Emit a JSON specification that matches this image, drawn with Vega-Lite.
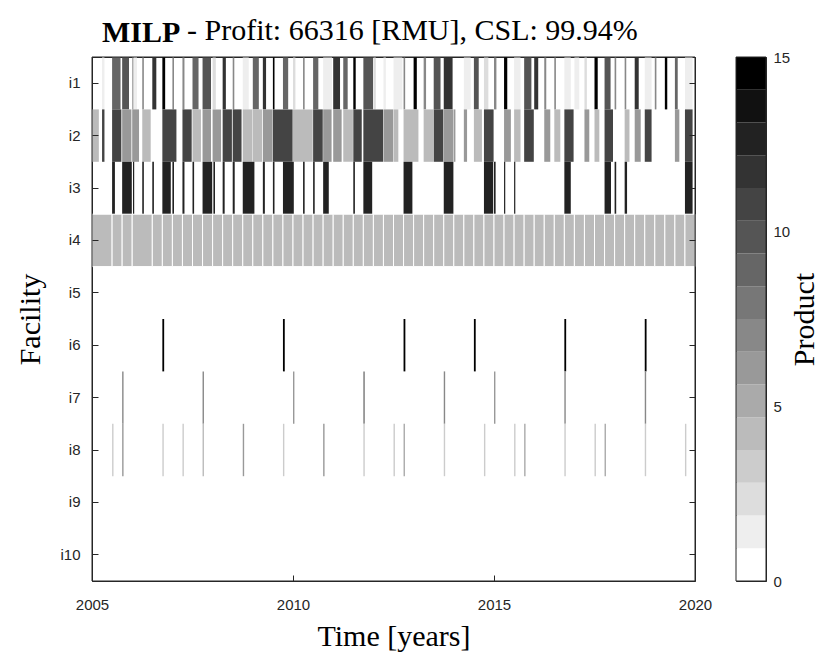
{
"$schema": "https://vega.github.io/schema/vega-lite/v6.json",
"background": "white",
"padding": {"left": 15, "top": 15, "right": 5, "bottom": 5},
"bounds": "flush",
"datasets": {
"bars": [
{"f":"i1","s":2005.25,"e":2005.31,"p":1},{"f":"i1","s":2005.5,"e":2005.71,"p":9},{"f":"i1","s":2005.75,"e":2005.92,"p":10},{"f":"i1","s":2006.0,"e":2006.035,"p":6},{"f":"i1","s":2006.035,"e":2006.12,"p":1},{"f":"i1","s":2006.25,"e":2006.29,"p":7},{"f":"i1","s":2006.5,"e":2006.6,"p":12},{"f":"i1","s":2006.75,"e":2006.82,"p":15},{"f":"i1","s":2007.0,"e":2007.04,"p":7},{"f":"i1","s":2007.25,"e":2007.3,"p":7},{"f":"i1","s":2007.5,"e":2007.65,"p":9},{"f":"i1","s":2007.75,"e":2007.96,"p":10},{"f":"i1","s":2008.0,"e":2008.08,"p":2},{"f":"i1","s":2008.25,"e":2008.33,"p":12},{"f":"i1","s":2008.5,"e":2008.54,"p":7},{"f":"i1","s":2008.75,"e":2008.9,"p":1},{"f":"i1","s":2009.0,"e":2009.15,"p":9},{"f":"i1","s":2009.25,"e":2009.33,"p":12},{"f":"i1","s":2009.5,"e":2009.54,"p":15},{"f":"i1","s":2009.75,"e":2009.88,"p":9},{"f":"i1","s":2010.0,"e":2010.06,"p":2},{"f":"i1","s":2010.25,"e":2010.29,"p":7},{"f":"i1","s":2010.5,"e":2010.63,"p":9},{"f":"i1","s":2010.75,"e":2010.97,"p":1},{"f":"i1","s":2011.0,"e":2011.17,"p":12},{"f":"i1","s":2011.25,"e":2011.36,"p":9},{"f":"i1","s":2011.5,"e":2011.56,"p":15},{"f":"i1","s":2011.75,"e":2011.99,"p":10},{"f":"i1","s":2012.0,"e":2012.06,"p":2},{"f":"i1","s":2012.25,"e":2012.31,"p":1},{"f":"i1","s":2012.5,"e":2012.72,"p":1},{"f":"i1","s":2012.75,"e":2012.79,"p":7},{"f":"i1","s":2013.0,"e":2013.08,"p":15},{"f":"i1","s":2013.25,"e":2013.31,"p":7},{"f":"i1","s":2013.5,"e":2013.67,"p":10},{"f":"i1","s":2013.75,"e":2013.97,"p":12},{"f":"i1","s":2014.25,"e":2014.42,"p":1},{"f":"i1","s":2014.5,"e":2014.62,"p":10},{"f":"i1","s":2014.75,"e":2014.86,"p":2},{"f":"i1","s":2015.0,"e":2015.06,"p":7},{"f":"i1","s":2015.25,"e":2015.33,"p":15},{"f":"i1","s":2015.5,"e":2015.66,"p":1},{"f":"i1","s":2015.75,"e":2015.93,"p":10},{"f":"i1","s":2016.0,"e":2016.1,"p":12},{"f":"i1","s":2016.25,"e":2016.3,"p":7},{"f":"i1","s":2016.5,"e":2016.54,"p":7},{"f":"i1","s":2016.75,"e":2016.91,"p":1},{"f":"i1","s":2017.0,"e":2017.12,"p":1},{"f":"i1","s":2017.25,"e":2017.31,"p":2},{"f":"i1","s":2017.5,"e":2017.58,"p":15},{"f":"i1","s":2017.75,"e":2017.9,"p":10},{"f":"i1","s":2018.0,"e":2018.04,"p":7},{"f":"i1","s":2018.25,"e":2018.29,"p":7},{"f":"i1","s":2018.5,"e":2018.6,"p":12},{"f":"i1","s":2018.75,"e":2018.92,"p":1},{"f":"i1","s":2019.0,"e":2019.04,"p":7},{"f":"i1","s":2019.25,"e":2019.31,"p":15},{"f":"i1","s":2019.5,"e":2019.57,"p":9},{"f":"i1","s":2019.75,"e":2019.94,"p":1},
{"f":"i2","s":2005.0,"e":2005.17,"p":4},{"f":"i2","s":2005.25,"e":2005.31,"p":11},{"f":"i2","s":2005.5,"e":2005.73,"p":11},{"f":"i2","s":2005.75,"e":2005.98,"p":6},{"f":"i2","s":2006.0,"e":2006.17,"p":6},{"f":"i2","s":2006.25,"e":2006.46,"p":4},{"f":"i2","s":2006.75,"e":2007.1,"p":11},{"f":"i2","s":2007.25,"e":2007.48,"p":11},{"f":"i2","s":2007.5,"e":2007.71,"p":4},{"f":"i2","s":2007.75,"e":2007.96,"p":6},{"f":"i2","s":2008.0,"e":2008.21,"p":6},{"f":"i2","s":2008.25,"e":2008.48,"p":11},{"f":"i2","s":2008.5,"e":2008.72,"p":11},{"f":"i2","s":2008.75,"e":2008.99,"p":4},{"f":"i2","s":2009.0,"e":2009.23,"p":4},{"f":"i2","s":2009.25,"e":2009.49,"p":6},{"f":"i2","s":2009.5,"e":2009.99,"p":11},{"f":"i2","s":2010.0,"e":2010.49,"p":4},{"f":"i2","s":2010.5,"e":2010.74,"p":11},{"f":"i2","s":2010.75,"e":2010.96,"p":6},{"f":"i2","s":2011.0,"e":2011.21,"p":6},{"f":"i2","s":2011.25,"e":2011.49,"p":4},{"f":"i2","s":2011.5,"e":2011.71,"p":11},{"f":"i2","s":2011.75,"e":2012.24,"p":11},{"f":"i2","s":2012.25,"e":2012.49,"p":6},{"f":"i2","s":2012.5,"e":2012.62,"p":4},{"f":"i2","s":2012.75,"e":2013.12,"p":4},{"f":"i2","s":2013.25,"e":2013.49,"p":4},{"f":"i2","s":2013.5,"e":2013.74,"p":11},{"f":"i2","s":2013.75,"e":2013.99,"p":6},{"f":"i2","s":2014.0,"e":2014.04,"p":6},{"f":"i2","s":2014.25,"e":2014.33,"p":6},{"f":"i2","s":2014.5,"e":2014.7,"p":4},{"f":"i2","s":2014.75,"e":2014.99,"p":11},{"f":"i2","s":2015.25,"e":2015.42,"p":6},{"f":"i2","s":2015.5,"e":2015.66,"p":4},{"f":"i2","s":2015.75,"e":2015.99,"p":11},{"f":"i2","s":2016.25,"e":2016.4,"p":6},{"f":"i2","s":2016.5,"e":2016.65,"p":4},{"f":"i2","s":2016.75,"e":2016.98,"p":11},{"f":"i2","s":2017.25,"e":2017.37,"p":6},{"f":"i2","s":2017.5,"e":2017.62,"p":4},{"f":"i2","s":2017.75,"e":2017.96,"p":11},{"f":"i2","s":2018.25,"e":2018.37,"p":4},{"f":"i2","s":2018.5,"e":2018.65,"p":6},{"f":"i2","s":2018.75,"e":2018.92,"p":11},{"f":"i2","s":2019.5,"e":2019.61,"p":6},{"f":"i2","s":2019.75,"e":2019.94,"p":11},
{"f":"i3","s":2005.5,"e":2005.57,"p":13},{"f":"i3","s":2005.75,"e":2005.99,"p":13},{"f":"i3","s":2006.02,"e":2006.05,"p":13},{"f":"i3","s":2006.25,"e":2006.29,"p":13},{"f":"i3","s":2006.5,"e":2006.54,"p":13},{"f":"i3","s":2006.75,"e":2006.96,"p":13},{"f":"i3","s":2007.0,"e":2007.04,"p":13},{"f":"i3","s":2007.25,"e":2007.3,"p":13},{"f":"i3","s":2007.5,"e":2007.54,"p":13},{"f":"i3","s":2007.75,"e":2007.99,"p":13},{"f":"i3","s":2008.02,"e":2008.06,"p":13},{"f":"i3","s":2008.25,"e":2008.3,"p":13},{"f":"i3","s":2008.5,"e":2008.55,"p":13},{"f":"i3","s":2008.75,"e":2009.04,"p":13},{"f":"i3","s":2009.25,"e":2009.3,"p":13},{"f":"i3","s":2009.5,"e":2009.54,"p":13},{"f":"i3","s":2009.75,"e":2010.02,"p":13},{"f":"i3","s":2010.25,"e":2010.29,"p":13},{"f":"i3","s":2010.5,"e":2010.54,"p":13},{"f":"i3","s":2010.75,"e":2010.89,"p":13},{"f":"i3","s":2011.5,"e":2011.54,"p":13},{"f":"i3","s":2011.75,"e":2011.97,"p":13},{"f":"i3","s":2012.75,"e":2012.97,"p":13},{"f":"i3","s":2013.75,"e":2013.99,"p":13},{"f":"i3","s":2014.75,"e":2014.98,"p":13},{"f":"i3","s":2015.0,"e":2015.04,"p":13},{"f":"i3","s":2015.25,"e":2015.28,"p":13},{"f":"i3","s":2015.5,"e":2015.53,"p":13},{"f":"i3","s":2016.75,"e":2016.91,"p":13},{"f":"i3","s":2017.75,"e":2017.91,"p":13},{"f":"i3","s":2018.0,"e":2018.04,"p":13},{"f":"i3","s":2018.25,"e":2018.31,"p":13},{"f":"i3","s":2019.75,"e":2019.94,"p":13},
{"f":"i6","s":2006.75,"e":2006.795,"p":15},{"f":"i6","s":2009.75,"e":2009.795,"p":15},{"f":"i6","s":2012.75,"e":2012.795,"p":15},{"f":"i6","s":2014.5,"e":2014.545,"p":15},{"f":"i6","s":2016.75,"e":2016.795,"p":15},{"f":"i6","s":2018.75,"e":2018.795,"p":15},
{"f":"i7","s":2005.75,"e":2005.785,"p":7},{"f":"i7","s":2007.75,"e":2007.785,"p":7},{"f":"i7","s":2010.0,"e":2010.035,"p":6},{"f":"i7","s":2011.75,"e":2011.785,"p":8},{"f":"i7","s":2013.75,"e":2013.785,"p":7},{"f":"i7","s":2015.0,"e":2015.035,"p":6},{"f":"i7","s":2016.75,"e":2016.785,"p":7},{"f":"i7","s":2018.75,"e":2018.785,"p":7},
{"f":"i8","s":2005.5,"e":2005.535,"p":3},{"f":"i8","s":2005.75,"e":2005.785,"p":6},{"f":"i8","s":2006.75,"e":2006.785,"p":3},{"f":"i8","s":2007.25,"e":2007.285,"p":3},{"f":"i8","s":2007.75,"e":2007.785,"p":4},{"f":"i8","s":2008.75,"e":2008.785,"p":6},{"f":"i8","s":2009.75,"e":2009.785,"p":3},{"f":"i8","s":2010.75,"e":2010.785,"p":6},{"f":"i8","s":2011.75,"e":2011.785,"p":3},{"f":"i8","s":2012.5,"e":2012.535,"p":3},{"f":"i8","s":2012.75,"e":2012.785,"p":5},{"f":"i8","s":2013.75,"e":2013.785,"p":3},{"f":"i8","s":2014.75,"e":2014.785,"p":3},{"f":"i8","s":2015.5,"e":2015.535,"p":3},{"f":"i8","s":2015.75,"e":2015.785,"p":5},{"f":"i8","s":2016.75,"e":2016.785,"p":3},{"f":"i8","s":2017.5,"e":2017.535,"p":3},{"f":"i8","s":2017.75,"e":2017.785,"p":5},{"f":"i8","s":2018.75,"e":2018.785,"p":3},{"f":"i8","s":2019.75,"e":2019.785,"p":3}
],
"q4": [
{"f":"i4","s":2005.0,"e":2005.5,"p":4},{"f":"i4","s":2005.5,"e":2005.75,"p":4},{"f":"i4","s":2005.75,"e":2006.0,"p":4},{"f":"i4","s":2006.0,"e":2006.5,"p":4},{"f":"i4","s":2006.5,"e":2006.75,"p":4},{"f":"i4","s":2006.75,"e":2007.0,"p":4},{"f":"i4","s":2007.0,"e":2007.25,"p":4},{"f":"i4","s":2007.25,"e":2007.5,"p":4},{"f":"i4","s":2007.5,"e":2007.75,"p":4},{"f":"i4","s":2007.75,"e":2008.0,"p":4},{"f":"i4","s":2008.0,"e":2008.25,"p":4},{"f":"i4","s":2008.25,"e":2008.5,"p":4},{"f":"i4","s":2008.5,"e":2008.75,"p":4},{"f":"i4","s":2008.75,"e":2009.0,"p":4},{"f":"i4","s":2009.0,"e":2009.25,"p":4},{"f":"i4","s":2009.25,"e":2009.5,"p":4},{"f":"i4","s":2009.5,"e":2009.75,"p":4},{"f":"i4","s":2009.75,"e":2010.0,"p":4},{"f":"i4","s":2010.0,"e":2010.25,"p":4},{"f":"i4","s":2010.25,"e":2010.5,"p":4},{"f":"i4","s":2010.5,"e":2010.75,"p":4},{"f":"i4","s":2010.75,"e":2011.0,"p":4},{"f":"i4","s":2011.0,"e":2011.25,"p":4},{"f":"i4","s":2011.25,"e":2011.5,"p":4},{"f":"i4","s":2011.5,"e":2011.75,"p":4},{"f":"i4","s":2011.75,"e":2012.0,"p":4},{"f":"i4","s":2012.0,"e":2012.25,"p":4},{"f":"i4","s":2012.25,"e":2012.5,"p":4},{"f":"i4","s":2012.5,"e":2012.75,"p":4},{"f":"i4","s":2012.75,"e":2013.0,"p":4},{"f":"i4","s":2013.0,"e":2013.25,"p":4},{"f":"i4","s":2013.25,"e":2013.5,"p":4},{"f":"i4","s":2013.5,"e":2013.75,"p":4},{"f":"i4","s":2013.75,"e":2014.0,"p":4},{"f":"i4","s":2014.0,"e":2014.25,"p":4},{"f":"i4","s":2014.25,"e":2014.5,"p":4},{"f":"i4","s":2014.5,"e":2014.75,"p":4},{"f":"i4","s":2014.75,"e":2015.0,"p":4},{"f":"i4","s":2015.0,"e":2015.25,"p":4},{"f":"i4","s":2015.25,"e":2015.5,"p":4},{"f":"i4","s":2015.5,"e":2015.75,"p":4},{"f":"i4","s":2015.75,"e":2016.0,"p":4},{"f":"i4","s":2016.0,"e":2016.25,"p":4},{"f":"i4","s":2016.25,"e":2016.5,"p":4},{"f":"i4","s":2016.5,"e":2016.75,"p":4},{"f":"i4","s":2016.75,"e":2017.0,"p":4},{"f":"i4","s":2017.0,"e":2017.25,"p":4},{"f":"i4","s":2017.25,"e":2017.5,"p":4},{"f":"i4","s":2017.5,"e":2017.75,"p":4},{"f":"i4","s":2017.75,"e":2018.0,"p":4},{"f":"i4","s":2018.0,"e":2018.25,"p":4},{"f":"i4","s":2018.25,"e":2018.5,"p":4},{"f":"i4","s":2018.5,"e":2018.75,"p":4},{"f":"i4","s":2018.75,"e":2019.0,"p":4},{"f":"i4","s":2019.0,"e":2019.25,"p":4},{"f":"i4","s":2019.25,"e":2019.5,"p":4},{"f":"i4","s":2019.5,"e":2019.75,"p":4},{"f":"i4","s":2019.75,"e":2020.0,"p":4}
],
"cbar": [
{"lo":0,"hi":0.9375,"p":0},{"lo":0.9375,"hi":1.875,"p":1},{"lo":1.875,"hi":2.8125,"p":2},{"lo":2.8125,"hi":3.75,"p":3},{"lo":3.75,"hi":4.6875,"p":4},{"lo":4.6875,"hi":5.625,"p":5},{"lo":5.625,"hi":6.5625,"p":6},{"lo":6.5625,"hi":7.5,"p":7},{"lo":7.5,"hi":8.4375,"p":8},{"lo":8.4375,"hi":9.375,"p":9},{"lo":9.375,"hi":10.3125,"p":10},{"lo":10.3125,"hi":11.25,"p":11},{"lo":11.25,"hi":12.1875,"p":12},{"lo":12.1875,"hi":13.125,"p":13},{"lo":13.125,"hi":14.0625,"p":14},{"lo":14.0625,"hi":15,"p":15}
]
},
"spacing": 41,
"hconcat": [
{
"width": 603, "height": 524,
"title": {"text": "MILP", "anchor": "start", "frame": "group", "dx": 10, "font": "Liberation Serif", "fontSize": 30, "fontWeight": "bold", "color": "black", "offset": 9},
"layer": [
{"data": {"name": "bars"}, "mark": {"type": "rect"},
 "encoding": {
  "x": {"field": "s", "type": "quantitative", "scale": {"domain": [2005, 2020], "nice": false, "zero": false},
        "axis": {"orient": "bottom", "values": [2005, 2010, 2015, 2020], "format": "d", "title": "Time [years]", "titleFont": "Liberation Serif", "titleFontSize": 30, "titleFontWeight": "normal", "titleColor": "black", "titlePadding": 9, "labelFont": "Liberation Sans", "labelFontSize": 15, "labelColor": "#262626", "tickSize": -6, "tickColor": "#262626", "domain": false, "grid": false, "labelPadding": 22, "labelFlush": false}},
  "x2": {"field": "e"},
  "y": {"field": "f", "type": "nominal", "scale": {"domain": ["i1","i2","i3","i4","i5","i6","i7","i8","i9","i10"], "paddingInner": 0, "paddingOuter": 0},
        "axis": {"orient": "left", "title": "Facility", "titleFont": "Liberation Serif", "titleFontSize": 30, "titleFontWeight": "normal", "titleColor": "black", "titlePadding": 14, "labelFont": "Liberation Sans", "labelFontSize": 15, "labelColor": "#262626", "tickSize": -6, "tickColor": "#262626", "domain": false, "grid": false, "labelPadding": 18}},
  "color": {"field": "p", "type": "ordinal", "scale": {"domain": [0,1,2,3,4,5,6,7,8,9,10,11,12,13,14,15], "range": ["#ffffff","#eeeeee","#dddddd","#cccccc","#bbbbbb","#aaaaaa","#999999","#888888","#777777","#666666","#555555","#444444","#333333","#222222","#111111","#000000"]}, "legend": null}
 }},
{"data": {"name": "q4"}, "mark": {"type": "rect", "stroke": "white", "strokeWidth": 1},
 "encoding": {
  "x": {"field": "s", "type": "quantitative", "axis": {"orient": "top", "values": [2005, 2010, 2015, 2020], "labels": false, "title": null, "tickSize": -6, "tickColor": "#262626", "domain": false, "grid": false, "minExtent": 0, "maxExtent": 0}},
  "x2": {"field": "e"},
  "y": {"field": "f", "type": "nominal", "axis": {"orient": "right", "labels": false, "title": null, "tickSize": -6, "tickColor": "#262626", "domain": false, "grid": false, "minExtent": 0, "maxExtent": 0}},
  "color": {"field": "p", "type": "ordinal", "legend": null}
 }},
{"data": {"values": [{"a": 2005, "b": 2020}]}, "mark": {"type": "rect", "fill": null, "fillOpacity": 0, "stroke": "#262626", "strokeWidth": 1},
 "encoding": {
  "x": {"field": "a", "type": "quantitative", "axis": null},
  "x2": {"field": "b"}
 }}
],
"resolve": {"axis": {"x": "independent", "y": "independent"}}
},
{
"width": 30, "height": 524,
"title": {"text": "- Profit: 66316 [RMU], CSL: 99.94%", "anchor": "start", "frame": "group", "dx": -549, "font": "Liberation Serif", "fontSize": 30, "fontWeight": "normal", "color": "black", "offset": 4},
"layer": [
{"data": {"name": "cbar"},
"mark": {"type": "rect"},
"encoding": {
 "y": {"field": "lo", "type": "quantitative", "scale": {"domain": [0, 15], "nice": false, "zero": false},
       "axis": {"orient": "right", "values": [0, 5, 10, 15], "title": "Product", "titleAngle": 270, "titleFont": "Liberation Serif", "titleFontSize": 30, "titleFontWeight": "normal", "titleColor": "black", "titlePadding": 30, "labelFont": "Liberation Sans", "labelFontSize": 15, "labelColor": "#262626", "tickSize": -5, "tickColor": "#262626", "domain": false, "grid": false, "labelPadding": 12, "labelFlush": false}},
 "y2": {"field": "hi"},
 "color": {"field": "p", "type": "ordinal", "scale": {"domain": [0,1,2,3,4,5,6,7,8,9,10,11,12,13,14,15], "range": ["#ffffff","#eeeeee","#dddddd","#cccccc","#bbbbbb","#aaaaaa","#999999","#888888","#777777","#666666","#555555","#444444","#333333","#222222","#111111","#000000"]}, "legend": null}
}},
{"data": {"values": [{"a": 0, "b": 15}]}, "mark": {"type": "rect", "fill": null, "fillOpacity": 0, "stroke": "#262626", "strokeWidth": 1},
 "encoding": {
  "y": {"field": "a", "type": "quantitative"},
  "y2": {"field": "b"}
 }}
]
}
],
"config": {"view": {"stroke": "#262626", "strokeWidth": 1}}
}
